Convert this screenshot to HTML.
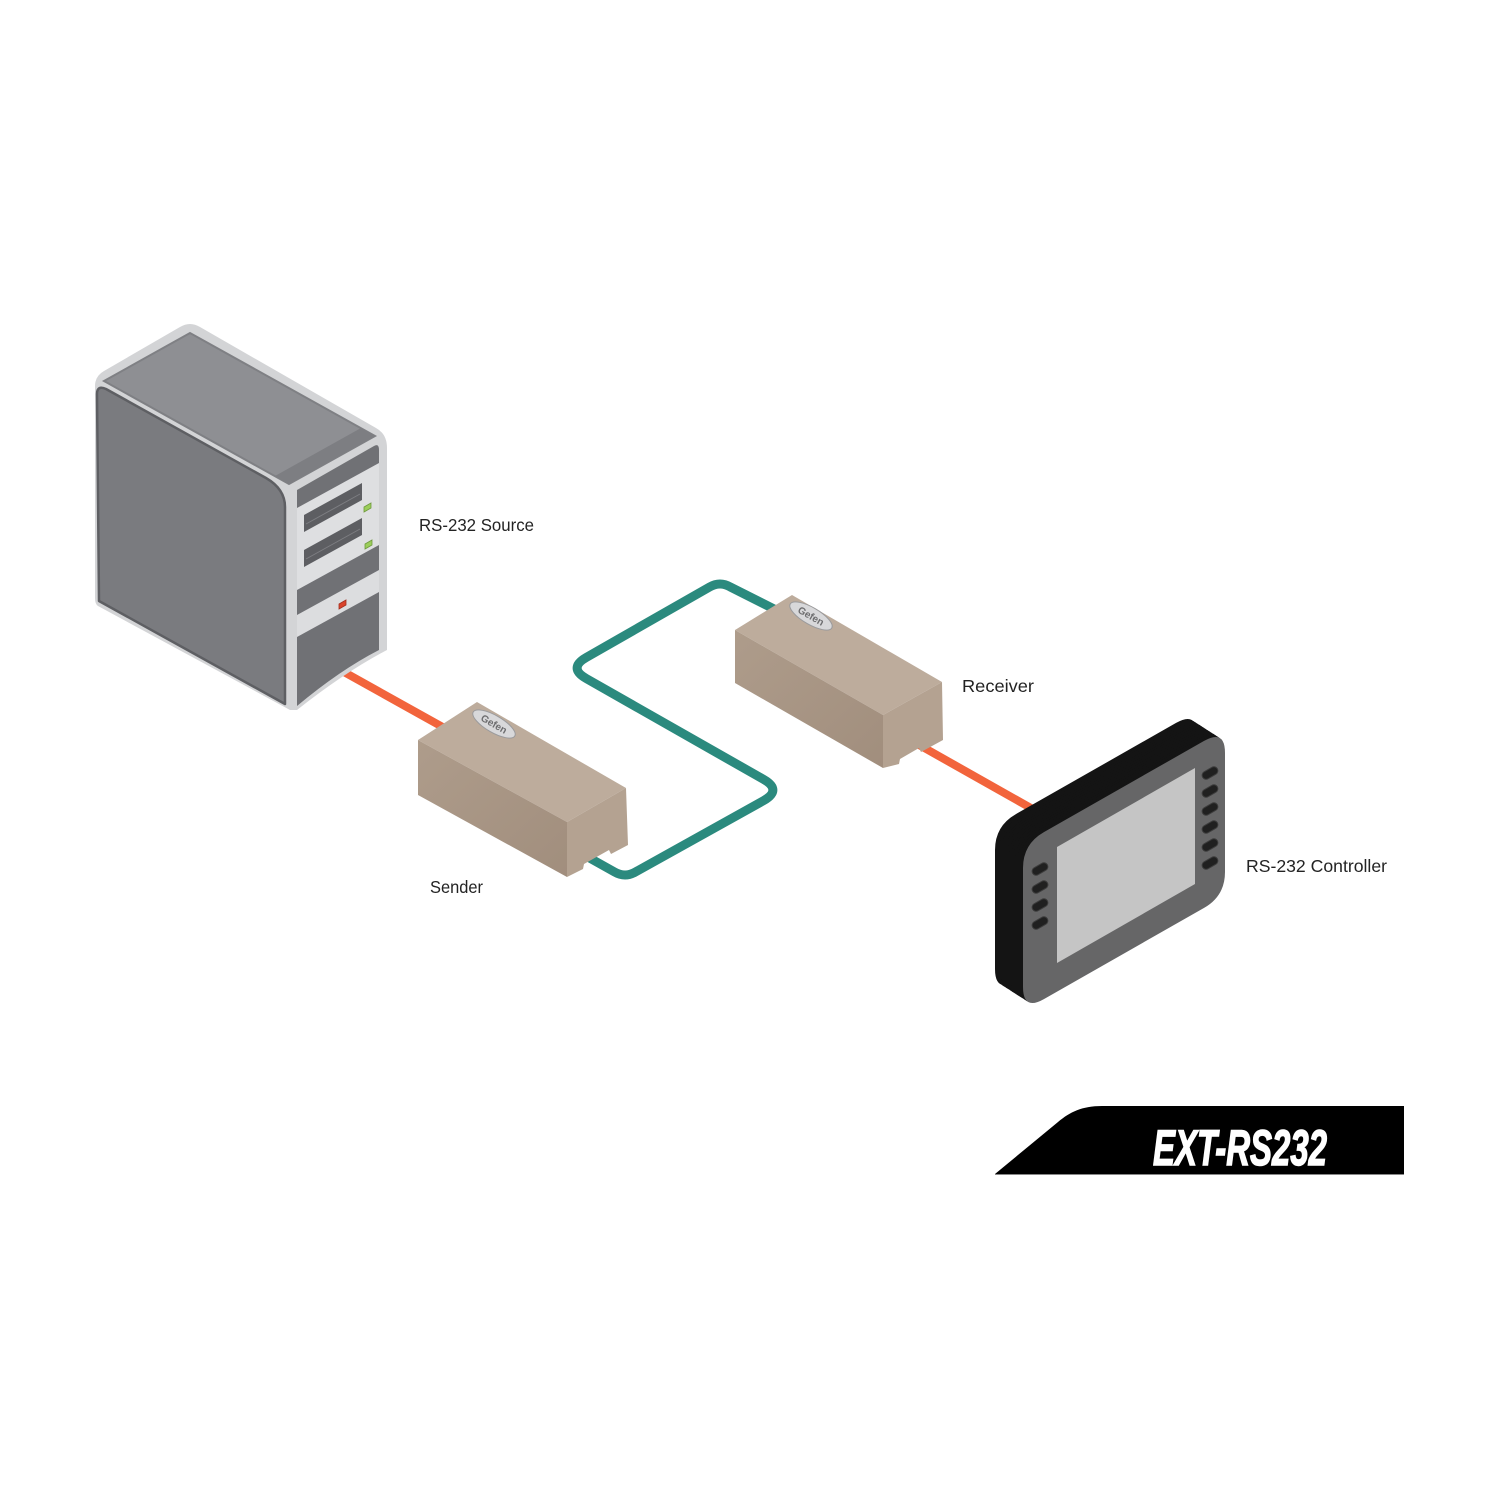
<!DOCTYPE html>
<html><head><meta charset="utf-8"><style>
html,body{margin:0;padding:0;background:#fff;}
svg{display:block;}
text{font-family:"Liberation Sans",sans-serif;}
</style></head><body>
<svg width="1500" height="1500" viewBox="0 0 1500 1500" xmlns="http://www.w3.org/2000/svg">
<defs>
<linearGradient id="lf" x1="0" y1="0" x2="1" y2="1">
<stop offset="0" stop-color="#ae9c8b"/><stop offset="1" stop-color="#a18e7d"/>
</linearGradient>
<path id="S" d="M1023,868 Q1023,844 1043.9,832.1 L1204.1,740.9 Q1225,729 1225,753 L1225,872 Q1225,896 1204.1,907.9 L1043.9,999.1 Q1023,1011 1023,987 Z"/>
</defs>
<rect width="1500" height="1500" fill="#fff"/>

<!-- cables -->
<line x1="335" y1="667" x2="448" y2="730" stroke="#f2643c" stroke-width="8"/>
<line x1="905" y1="737" x2="1045" y2="816" stroke="#f2643c" stroke-width="8"/>
<path d="M586,856 L614.6,872 Q625,878 635.4,872 L763.8,800.5 Q782,790 763.8,779.5 L586.2,678.5 Q568,668 586.2,657.5 L709.6,587 Q720,581 730.4,587 L780,612" fill="none" stroke="#2b8a7e" stroke-width="9"/>

<!-- computer tower -->
<path d="M95,386 Q95,376 104,371 L180,327 Q190,321 200,327 L376,428 Q387,434 387,448 L387,650 Q345,672 297,710 L290,710 L98,606 Q95,604 95,598 Z" fill="#d3d4d6"/>
<path d="M97,394 Q97,385 106,389 L266,478 Q285,489 285,507 L285,704 L99,601 Z" fill="#7a7b7f" stroke="#5e5f63" stroke-width="2.5" stroke-linejoin="round"/>
<path d="M104,381 L190,333 L375,436 L289,484 Z" fill="#8e8f93" stroke="#7f8084" stroke-width="2"/>
<path d="M289,484 L375,436 L361,428 L275,476 Z" fill="#7d7e82"/>
<path d="M297,490 L374,446 Q379,443 379,450 L379,650 Q340,670 297,706 Z" fill="#707175"/>
<!-- bay panel -->
<path d="M297,508 L379,463 L379,545 L297,590 Z" fill="#dedfe1"/>
<path d="M304,515 L362,483 L362,500 L304,532 Z" fill="#5d5e62"/>
<path d="M306,524 L360,494" stroke="#7d7e82" stroke-width="1"/>
<path d="M304,550 L362,518 L362,535 L304,567 Z" fill="#5d5e62"/>
<path d="M306,559 L360,529" stroke="#7d7e82" stroke-width="1"/>
<path d="M364,507 L371,503 L371,508 L364,512 Z" fill="#9bcd5a" stroke="#6f9a3e" stroke-width="0.8"/>
<path d="M365,544 L372,540 L372,545 L365,549 Z" fill="#9bcd5a" stroke="#6f9a3e" stroke-width="0.8"/>
<!-- button band -->
<path d="M297,615 L379,570 L379,592 L297,637 Z" fill="#dcdddf"/>
<path d="M339,604 L346,600 L346,605 L339,609 Z" fill="#d9432b" stroke="#a33020" stroke-width="0.8"/>

<!-- sender -->
<polygon points="477,702 418,740 567,822 626,788" fill="#bdac9c"/>
<polygon points="418,740 567,822 567,877 418,795" fill="url(#lf)"/>
<polygon points="567,822 626,788 628,845 611,854 609,850 584,864 583,869 567,877" fill="#b4a291"/>
<g transform="translate(494,724) rotate(30)">
<ellipse cx="0" cy="0" rx="24" ry="8.5" fill="#d8d8da" stroke="#9a9a9c" stroke-width="1"/>
<text x="0" y="3.5" font-size="10" font-weight="bold" fill="#6d6d6f" text-anchor="middle">Gefen</text>
</g>

<!-- receiver -->
<polygon points="792,595 735,630 883,715 942,682" fill="#bdac9c"/>
<polygon points="735,630 883,715 883,768 735,683" fill="url(#lf)"/>
<polygon points="883,715 942,682 943,740 921,752 919,748 900,759 899,764 883,768" fill="#b4a291"/>
<g transform="translate(811,616) rotate(30)">
<ellipse cx="0" cy="0" rx="24" ry="8.5" fill="#d8d8da" stroke="#9a9a9c" stroke-width="1"/>
<text x="0" y="3.5" font-size="10" font-weight="bold" fill="#6d6d6f" text-anchor="middle">Gefen</text>
</g>

<!-- controller -->
<g fill="#141414">
<use href="#S" transform="translate(-28,-18)"/>
<use href="#S" transform="translate(-26,-16.7)"/>
<use href="#S" transform="translate(-24,-15.4)"/>
<use href="#S" transform="translate(-22,-14.1)"/>
<use href="#S" transform="translate(-20,-12.9)"/>
<use href="#S" transform="translate(-18,-11.6)"/>
<use href="#S" transform="translate(-16,-10.3)"/>
<use href="#S" transform="translate(-14,-9)"/>
<use href="#S" transform="translate(-12,-7.7)"/>
<use href="#S" transform="translate(-10,-6.4)"/>
<use href="#S" transform="translate(-8,-5.1)"/>
<use href="#S" transform="translate(-6,-3.9)"/>
<use href="#S" transform="translate(-4,-2.6)"/>
<use href="#S" transform="translate(-2,-1.3)"/>
</g>
<use href="#S" fill="#666667"/>
<polygon points="1057,847 1195,768 1195,884 1057,963" fill="#c5c5c5"/>
<g fill="#202020" stroke="#3c3c3c" stroke-width="1">
<rect x="1031.5" y="865" width="17" height="8" rx="4" transform="rotate(-30 1040 869)"/>
<rect x="1031.5" y="883" width="17" height="8" rx="4" transform="rotate(-30 1040 887)"/>
<rect x="1031.5" y="901" width="17" height="8" rx="4" transform="rotate(-30 1040 905)"/>
<rect x="1031.5" y="919" width="17" height="8" rx="4" transform="rotate(-30 1040 923)"/>
<rect x="1201.5" y="769" width="17" height="8" rx="4" transform="rotate(-30 1210 773)"/>
<rect x="1201.5" y="787" width="17" height="8" rx="4" transform="rotate(-30 1210 791)"/>
<rect x="1201.5" y="805" width="17" height="8" rx="4" transform="rotate(-30 1210 809)"/>
<rect x="1201.5" y="823" width="17" height="8" rx="4" transform="rotate(-30 1210 827)"/>
<rect x="1201.5" y="841" width="17" height="8" rx="4" transform="rotate(-30 1210 845)"/>
<rect x="1201.5" y="859" width="17" height="8" rx="4" transform="rotate(-30 1210 863)"/>
</g>

<!-- labels -->
<g fill="#232323" font-size="17.5">
<text x="419" y="531" textLength="115" lengthAdjust="spacingAndGlyphs">RS-232 Source</text>
<text x="430" y="893" textLength="53" lengthAdjust="spacingAndGlyphs">Sender</text>
<text x="962" y="692" textLength="72" lengthAdjust="spacingAndGlyphs">Receiver</text>
<text x="1246" y="872" textLength="141" lengthAdjust="spacingAndGlyphs">RS-232 Controller</text>
</g>

<!-- banner -->
<path d="M995,1174 L1058,1122 C1070,1112 1082,1106 1102,1106 L1404,1106 L1404,1174 Z" fill="#000"/>
<line x1="995" y1="1174.5" x2="1404" y2="1174.5" stroke="#888" stroke-width="1"/>
<text x="1153" y="1165" font-size="50" font-weight="bold" font-style="italic" fill="#fff" stroke="#fff" stroke-width="1.5" textLength="174" lengthAdjust="spacingAndGlyphs">EXT-RS232</text>
</svg>
</body></html>
